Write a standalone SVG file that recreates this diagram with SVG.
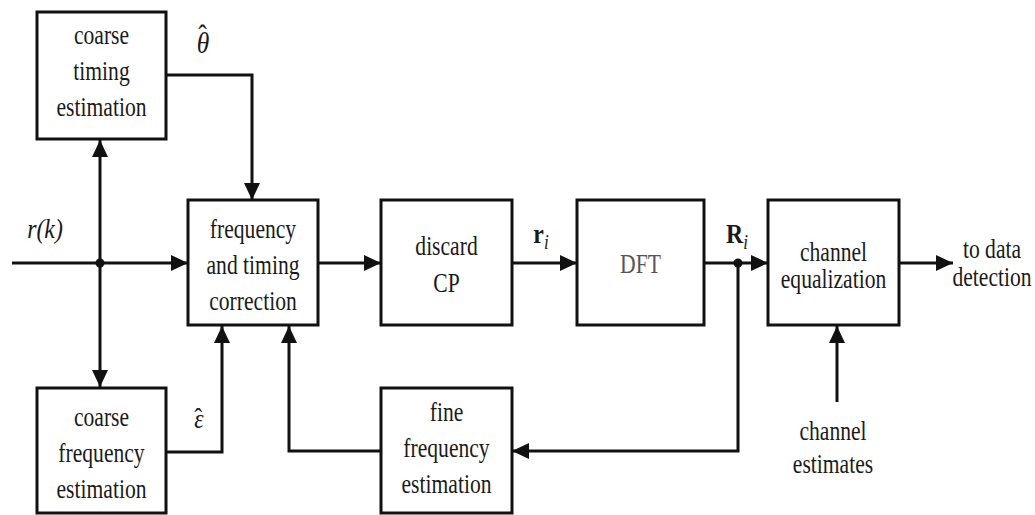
<svg xmlns="http://www.w3.org/2000/svg" width="1035" height="515" viewBox="0 0 1035 515" font-family="Liberation Serif, Times New Roman, serif">
<style>
  .box{fill:#fff;stroke:#111;stroke-width:3}
  .ln{fill:none;stroke:#111;stroke-width:3}
  .t{font-size:27px;fill:#1a1a1a;text-anchor:middle}
  .lbl{font-size:28px;fill:#1a1a1a;text-anchor:middle}
  .it{font-style:italic}
  .b{font-weight:bold}
</style>
<defs>
  <marker id="ah" markerUnits="userSpaceOnUse" markerWidth="18" markerHeight="18" refX="17" refY="8" orient="auto">
    <path d="M0,0 L17,8 L0,16 z" fill="#111"/>
  </marker>
</defs>
<rect width="1035" height="515" fill="#fff"/>

<g id="connectors">
  <line class="ln" x1="12" y1="263" x2="188" y2="263" marker-end="url(#ah)"/>
  <line class="ln" x1="100" y1="263" x2="100" y2="140" marker-end="url(#ah)"/>
  <line class="ln" x1="100" y1="263" x2="100" y2="387" marker-end="url(#ah)"/>
  <polyline class="ln" points="166,75 252,75 252,200" marker-end="url(#ah)"/>
  <polyline class="ln" points="166,452 222,452 222,326" marker-end="url(#ah)"/>
  <polyline class="ln" points="381,451 289,451 289,326" marker-end="url(#ah)"/>
  <line class="ln" x1="318" y1="263" x2="381" y2="263" marker-end="url(#ah)"/>
  <line class="ln" x1="512" y1="263" x2="577" y2="263" marker-end="url(#ah)"/>
  <line class="ln" x1="704" y1="263" x2="768" y2="263" marker-end="url(#ah)"/>
  <polyline class="ln" points="738,263 738,451 512,451" marker-end="url(#ah)"/>
  <line class="ln" x1="899" y1="263" x2="953" y2="263" marker-end="url(#ah)"/>
  <line class="ln" x1="837" y1="402" x2="837" y2="326" marker-end="url(#ah)"/>
  <circle cx="100" cy="263" r="4.5" fill="#111"/>
  <circle cx="738" cy="263" r="4.5" fill="#111"/>
  <g transform="translate(45 0) scale(0.85 1)">
    <text class="lbl it" x="0" y="238">r(k)</text>
  </g>
  <g transform="translate(203 0) scale(0.85 1)">
    <text class="lbl it" x="0" y="53" style="font-size:30px">θ<tspan style="font-style:normal" dx="-13" dy="-8">ˆ</tspan></text>
  </g>
  <g transform="translate(199 0) scale(0.85 1)">
    <text class="lbl it" x="0" y="428">ε<tspan style="font-style:normal" dx="-11" dy="-1">ˆ</tspan></text>
  </g>
  <g transform="translate(541 0) scale(0.85 1)">
    <text class="lbl b" x="0" y="243">r<tspan class="it" style="font-weight:normal;font-size:20px" dy="6">i</tspan></text>
  </g>
  <g transform="translate(737 0) scale(0.85 1)">
    <text class="lbl b" x="0" y="243">R<tspan class="it" style="font-weight:normal;font-size:20px" dy="6">i</tspan></text>
  </g>
</g>

<g id="coarse-timing">
  <rect class="box" x="37" y="12" width="129" height="127"/>
  <g transform="translate(101.5 0) scale(0.8 1)">
    <text class="t" x="0" y="44">coarse</text>
    <text class="t" x="0" y="80">timing</text>
    <text class="t" x="0" y="116">estimation</text>
  </g>
</g>

<g id="freq-timing-correction">
  <rect class="box" x="188" y="200" width="130" height="125"/>
  <g transform="translate(253 0) scale(0.8 1)">
    <text class="t" x="0" y="238">frequency</text>
    <text class="t" x="0" y="274">and timing</text>
    <text class="t" x="0" y="310">correction</text>
  </g>
</g>

<g id="discard-cp">
  <rect class="box" x="381" y="200" width="131" height="125"/>
  <g transform="translate(446.5 0) scale(0.8 1)">
    <text class="t" x="0" y="255">discard</text>
    <text class="t" x="0" y="292">CP</text>
  </g>
</g>

<g id="dft">
  <rect class="box" x="577" y="200" width="127" height="125"/>
  <g transform="translate(640.5 0) scale(0.8 1)">
    <text class="t" x="0" y="273" style="fill:#555">DFT</text>
  </g>
</g>

<g id="channel-equalization">
  <rect class="box" x="768" y="200" width="131" height="125"/>
  <g transform="translate(833.5 0) scale(0.8 1)">
    <text class="t" x="0" y="261">channel</text>
    <text class="t" x="0" y="288">equalization</text>
  </g>
</g>

<g id="coarse-frequency">
  <rect class="box" x="37" y="388" width="129" height="125"/>
  <g transform="translate(101.5 0) scale(0.8 1)">
    <text class="t" x="0" y="426">coarse</text>
    <text class="t" x="0" y="462">frequency</text>
    <text class="t" x="0" y="498">estimation</text>
  </g>
</g>

<g id="fine-frequency">
  <rect class="box" x="381" y="388" width="131" height="125"/>
  <g transform="translate(446.5 0) scale(0.8 1)">
    <text class="t" x="0" y="421">fine</text>
    <text class="t" x="0" y="457">frequency</text>
    <text class="t" x="0" y="493">estimation</text>
  </g>
</g>

<g id="data-detection">
  <g transform="translate(992 0) scale(0.8 1)">
    <text class="t" x="0" y="258">to  data</text>
    <text class="t" x="0" y="286">detection</text>
  </g>
</g>

<g id="channel-estimates">
  <g transform="translate(833 0) scale(0.8 1)">
    <text class="t" x="0" y="440">channel</text>
    <text class="t" x="0" y="473">estimates</text>
  </g>
</g>
</svg>
